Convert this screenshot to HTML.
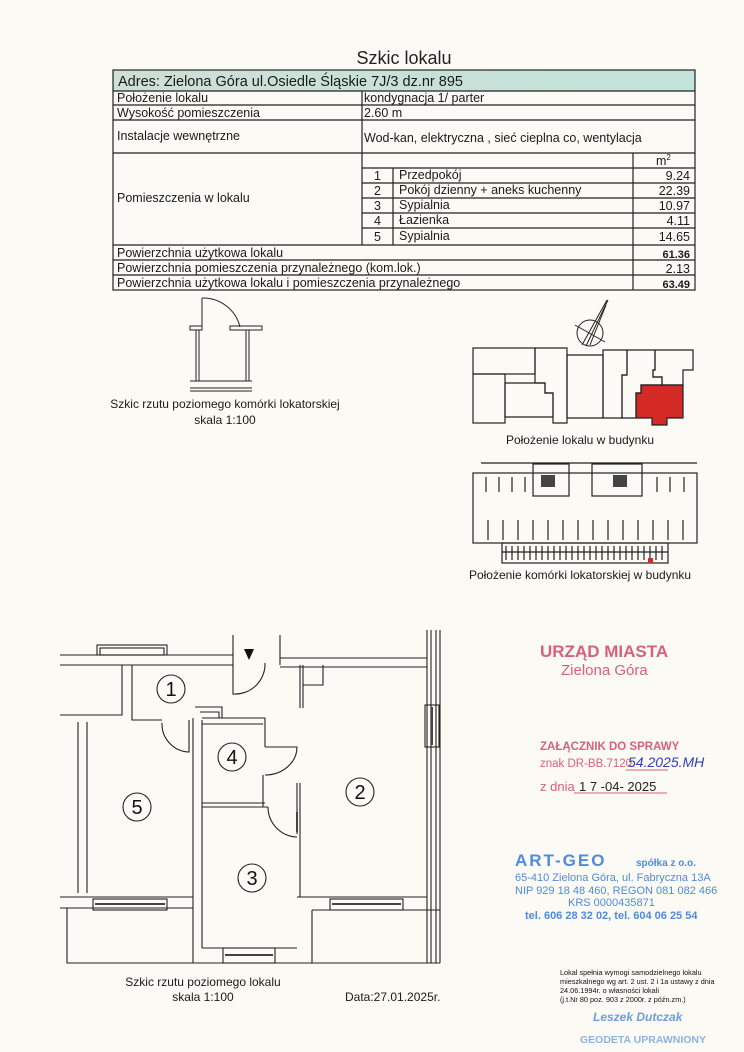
<!DOCTYPE html>
<html><head><meta charset="utf-8"><style>
html,body{margin:0;padding:0;background:#fbfaf4;}
svg{display:block;font-family:"Liberation Sans",Arial,sans-serif;}
</style></head><body>
<svg width="744" height="1052" viewBox="0 0 744 1052" xmlns="http://www.w3.org/2000/svg">
<defs><linearGradient id="g" x1="0" x2="1"><stop offset="0" stop-color="#cfe0d6"/><stop offset="1" stop-color="#c2e2da"/></linearGradient></defs>
<rect width="744" height="1052" fill="#fbfaf4"/>
<text x="404" y="64" font-size="18" text-anchor="middle" fill="#222">Szkic lokalu</text>
<!-- table -->
<rect x="113" y="70" width="582" height="21" fill="url(#g)"/>
<g stroke="#222" stroke-width="1.2" fill="none">
<rect x="113" y="70" width="582" height="220"/>
<line x1="113" y1="91" x2="695" y2="91"/><line x1="113" y1="105" x2="695" y2="105"/>
<line x1="113" y1="120" x2="695" y2="120"/><line x1="113" y1="153" x2="695" y2="153"/>
<line x1="362" y1="168" x2="695" y2="168"/><line x1="362" y1="183" x2="695" y2="183"/>
<line x1="362" y1="198" x2="695" y2="198"/><line x1="362" y1="213" x2="695" y2="213"/>
<line x1="362" y1="228" x2="695" y2="228"/>
<line x1="113" y1="245" x2="695" y2="245"/><line x1="113" y1="260" x2="695" y2="260"/>
<line x1="113" y1="275" x2="695" y2="275"/>
<line x1="362" y1="91" x2="362" y2="245"/>
<line x1="393" y1="168" x2="393" y2="245"/>
<line x1="633" y1="153" x2="633" y2="290"/>
</g>
<g font-size="12.5" fill="#1a1a1a">
<text x="118" y="86" font-size="14.5">Adres: Zielona Góra ul.Osiedle Śląskie 7J/3 dz.nr 895</text>
<text x="117" y="102">Położenie lokalu</text><text x="364" y="102">kondygnacja 1/ parter</text>
<text x="117" y="117">Wysokość pomieszczenia</text><text x="364" y="117">2.60 m</text>
<text x="117" y="140">Instalacje wewnętrzne</text><text x="364" y="142">Wod-kan, elektryczna , sieć cieplna co, wentylacja</text>
<text x="117" y="202">Pomieszczenia w lokalu</text>
<text x="656" y="165">m<tspan font-size="8" dy="-5">2</tspan></text>
<text x="374" y="180">1</text><text x="399" y="179">Przedpokój</text><text x="690" y="180" text-anchor="end">9.24</text>
<text x="374" y="195">2</text><text x="399" y="194">Pokój dzienny + aneks kuchenny</text><text x="690" y="195" text-anchor="end">22.39</text>
<text x="374" y="210">3</text><text x="399" y="209">Sypialnia</text><text x="690" y="210" text-anchor="end">10.97</text>
<text x="374" y="225">4</text><text x="399" y="224">Łazienka</text><text x="690" y="225" text-anchor="end">4.11</text>
<text x="374" y="241">5</text><text x="399" y="240">Sypialnia</text><text x="690" y="241" text-anchor="end">14.65</text>
<text x="117" y="257">Powierzchnia użytkowa lokalu</text><text x="690" y="258" text-anchor="end" font-weight="bold" font-size="11">61.36</text>
<text x="117" y="272">Powierzchnia pomieszczenia przynależnego (kom.lok.)</text><text x="690" y="273" text-anchor="end">2.13</text>
<text x="117" y="287">Powierzchnia użytkowa lokalu i pomieszczenia przynależnego</text><text x="690" y="288" text-anchor="end" font-weight="bold" font-size="11">63.49</text>
</g>
<!-- locker -->
<g stroke="#222" stroke-width="1" fill="none">
<path d="M202 298 V327 M202 298 A38 38 0 0 1 240 327"/>
<rect x="190" y="326" width="12" height="4"/><rect x="230" y="326" width="32" height="4"/>
<line x1="196" y1="330" x2="196" y2="381"/><line x1="199" y1="330" x2="199" y2="381"/>
<line x1="246" y1="330" x2="246" y2="381"/><line x1="249" y1="330" x2="249" y2="381"/>
<line x1="190" y1="381" x2="252" y2="381"/>
<line x1="190" y1="388" x2="252" y2="388"/><line x1="190" y1="391" x2="252" y2="391"/>
</g>
<g font-size="12" fill="#1a1a1a" text-anchor="middle">
<text x="225" y="408">Szkic rzutu poziomego komórki lokatorskiej</text>
<text x="225" y="424">skala 1:100</text>
<text x="580" y="444">Położenie lokalu w budynku</text>
<text x="580" y="579">Położenie komórki lokatorskiej w budynku</text>
<text x="203" y="986">Szkic rzutu poziomego lokalu</text>
<text x="203" y="1001">skala 1:100</text>
<text x="345" y="1001" text-anchor="start">Data:27.01.2025r.</text>
</g>
<!-- compass -->
<g stroke="#222" stroke-width="1" fill="none">
<circle cx="590" cy="333" r="13"/>
<line x1="575" y1="325" x2="605" y2="342"/>
<line x1="582" y1="345" x2="607" y2="300"/><line x1="586" y1="346" x2="608" y2="300"/><line x1="590" y1="345" x2="606" y2="305"/>
</g>
<!-- building 1 -->
<polygon points="641,385 683,385 683,418 667,418 667,425 652,425 652,418 636,418 636,393 641,393" fill="#d42a26"/>
<g stroke="#222" stroke-width="1.2" fill="none" stroke-linejoin="miter">
<rect x="473" y="348" width="62" height="26"/>
<rect x="473" y="374" width="32" height="49"/>
<polygon points="505,383 545,383 545,393 553,393 553,417 505,417"/>
<polygon points="535,348 567,348 567,423 553,423 553,393 545,393 545,383 535,383"/>
<polygon points="567,355 603,355 603,418 567,418"/>
<polygon points="603,350 627,350 627,375 622,375 622,418 603,418"/>
<polygon points="627,350 655,350 655,370 653,370 653,377 662,377 662,385 641,385 641,393 636,393 636,418 622,418 622,375 627,375"/>
<polygon points="655,350 693,350 693,370 683,370 683,385 662,385 662,377 653,377 653,370 655,370"/>
<polygon points="641,385 683,385 683,418 667,418 667,425 652,425 652,418 636,418 636,393 641,393"/>
</g>
<!-- building 2 -->
<g stroke="#222" stroke-width="1.2" fill="none">
<line x1="481" y1="463" x2="697" y2="463"/>
<rect x="473" y="473" width="224" height="70"/>
<rect x="502" y="543" width="166" height="20"/>
<rect x="533" y="464" width="36" height="32"/><rect x="592" y="464" width="50" height="32"/>
<path d="M486 477 V492 M499 477 V492 M512 477 V492 M525 477 V492 M657 477 V492 M670 477 V492 M684 477 V492"/>
<path d="M488 520 V540 M503 520 V540 M518 520 V540 M533 520 V540 M548 520 V540 M563 520 V540 M578 520 V540 M593 520 V540 M608 520 V540 M623 520 V540 M638 520 V540 M653 520 V540 M668 520 V540 M683 520 V540"/>
<path d="M506 546 V560 M512 546 V560 M518 546 V560 M524 546 V560 M530 546 V560 M536 546 V560 M542 546 V560 M548 546 V560 M554 546 V560 M560 546 V560 M566 546 V560 M572 546 V560 M578 546 V560 M584 546 V560 M590 546 V560 M596 546 V560 M602 546 V560 M608 546 V560 M614 546 V560 M620 546 V560 M626 546 V560 M632 546 V560 M638 546 V560 M644 546 V560 M650 546 V560 M656 546 V560 M662 546 V560"/>
<line x1="502" y1="552" x2="668" y2="552"/>
</g>
<rect x="541" y="475" width="14" height="12" fill="#444"/><rect x="613" y="475" width="14" height="12" fill="#444"/>
<rect x="648" y="558" width="5" height="5" fill="#d42a26"/>
<!-- floor plan -->
<g stroke="#222" stroke-width="1.1" fill="none">
<rect x="97" y="645" width="70" height="10"/><rect x="100" y="648" width="64" height="7"/>
<path d="M60 655 H233 V665 H60"/><path d="M233 655 V635 M280 665 V635 M280 658 H427 M280 667 H427"/>
<path d="M233 665 V694 A30 30 0 0 0 265 663"/>
<path d="M122 665 V715 H60 M132 665 V720 H162"/>
<path d="M78 722 V893 M87 722 V893"/>
<path d="M189 720 V752 A28 28 0 0 1 162 723"/>
<path d="M193 718 V963 M202 720 V948"/>
<path d="M195 707 H222 V718 M200 712 H219 V718"/>
<path d="M202 718 H265 V747 M202 724 H263 M263 775 V807 M202 803 H265 M202 807 H268"/>
<path d="M265 747 H297 A32 28 0 0 1 265 775"/>
<path d="M297 783 V834 M300 783 V897 M297 837 A30 30 0 0 1 268 807"/>
<path d="M300 665 V708 M303 665 V708 M303 665 V685 H323 V665"/>
<path d="M427 630 V963 M431 630 V963 M436 630 V963 M440 630 V963"/>
<rect x="425" y="705" width="14" height="42"/>
<path d="M60 897 H193 M60 908 H193 M67 908 V963 H193"/>
<rect x="93" y="899" width="74" height="11"/>
<path d="M297 897 H427 M312 910 H440 M312 910 V963 H440"/>
<rect x="330" y="899" width="73" height="11"/>
<path d="M202 948 H297 M193 963 H312"/>
<rect x="223" y="948" width="52" height="15"/>
</g>
<g stroke="#444" stroke-width="2"><line x1="95" y1="904" x2="165" y2="904"/><line x1="332" y1="904" x2="401" y2="904"/><line x1="225" y1="955" x2="273" y2="955"/><line x1="432" y1="707" x2="432" y2="745"/><line x1="297" y1="812" x2="297" y2="832"/></g>
<polygon points="244,649 254,649 249,660" fill="#111"/>
<g stroke="#222" stroke-width="1.1" fill="#fbfaf4">
<circle cx="171" cy="689" r="14"/><circle cx="232" cy="757" r="14"/><circle cx="137" cy="807" r="14"/><circle cx="360" cy="792" r="14"/><circle cx="252" cy="878" r="14"/>
</g>
<g font-size="20" fill="#111" text-anchor="middle">
<text x="171" y="696">1</text><text x="232" y="764">4</text><text x="137" y="814">5</text><text x="360" y="799">2</text><text x="252" y="885">3</text>
</g>
<!-- stamps -->
<g fill="#d9607a">
<text x="540" y="657" font-size="17" font-weight="bold">URZĄD MIASTA</text>
<text x="561" y="675" font-size="15">Zielona Góra</text>
<text x="540" y="750" font-size="11.5" font-weight="bold">ZAŁĄCZNIK DO SPRAWY</text>
<text x="540" y="767" font-size="11.5">znak DR-BB.7120.</text>
<text x="540" y="791" font-size="13">z dnia</text>
</g>
<text x="628" y="767" font-size="14" fill="#2f3fc0" font-style="italic">54.2025.MH</text>
<text x="579" y="791" font-size="13" fill="#222">1 7 -04- 2025</text>
<line x1="574" y1="793" x2="667" y2="793" stroke="#d9607a"/>
<line x1="626" y1="770" x2="668" y2="770" stroke="#d9607a"/>
<g fill="#4f8be0">
<text x="515" y="866" font-size="17" font-weight="bold" letter-spacing="2">ART-GEO</text>
<text x="636" y="866" font-size="10" font-weight="bold">spółka z o.o.</text>
<text x="515" y="881" font-size="11">65-410 Zielona Góra, ul. Fabryczna 13A</text>
<text x="515" y="894" font-size="11">NIP 929 18 48 460, REGON 081 082 466</text>
<text x="568" y="906" font-size="11">KRS 0000435871</text>
<text x="525" y="919" font-size="11" font-weight="bold">tel. 606 28 32 02, tel. 604 06 25 54</text>
<text x="593" y="1021" font-size="12" font-style="italic" font-weight="bold" fill="#6f9de0">Leszek Dutczak</text>
<text x="580" y="1043" font-size="10.5" font-weight="bold" fill="#8fb2e6">GEODETA UPRAWNIONY</text>
</g>
<g font-size="7.3" fill="#111">
<text x="560" y="975">Lokal spełnia wymogi samodzielnego lokalu</text>
<text x="560" y="984">mieszkalnego wg art. 2 ust. 2 i 1a ustawy z dnia</text>
<text x="560" y="993">24.06.1994r. o własności lokali</text>
<text x="560" y="1002">(j.t.Nr 80 poz. 903 z 2000r. z późn.zm.)</text>
</g>
</svg>
</body></html>
